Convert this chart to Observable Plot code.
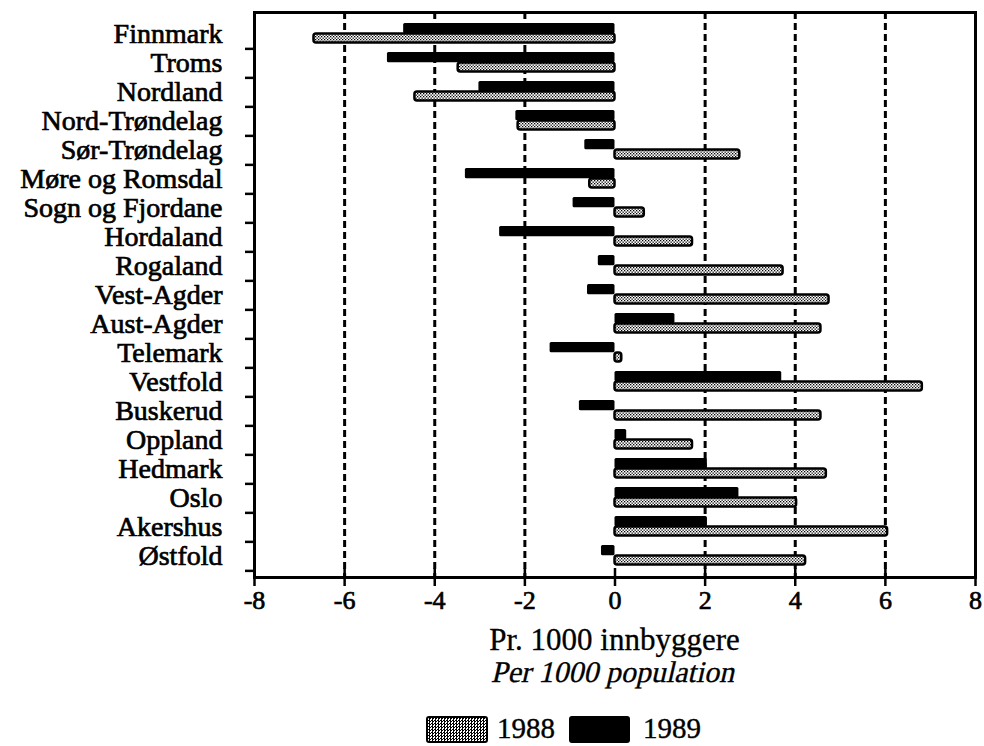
<!DOCTYPE html>
<html>
<head>
<meta charset="utf-8">
<script src="https://cdn.jsdelivr.net/npm/d3@7"></script>
<script src="https://cdn.jsdelivr.net/npm/@observablehq/plot@0.6"></script>
<style>
  html, body { margin: 0; padding: 0; background: #fff; }
  #wrap { position: relative; width: 984px; height: 746px; overflow: hidden; font-family: "Liberation Serif", "Times New Roman", serif; color: #000; }
  .t { position: absolute; left: 254px; width: 721px; text-align: center; white-space: nowrap; -webkit-text-stroke: 0.3px #000; }
  .t span { display: inline-block; }
  .leg { position: absolute; top: 716px; font-size: 29px; line-height: 24px; -webkit-text-stroke: 0.4px #000; }
  .sw { position: absolute; top: 716px; height: 27px; box-sizing: border-box; border: 2px solid #000; border-radius: 3px; }
  #chart svg text { paint-order: stroke; stroke: #000; stroke-width: 0.7px; }
</style>
</head>
<body>
<div id="wrap">
  <div id="chart"></div>
  <div class="t" style="top:624px;font-size:31px;line-height:31px;">Pr. 1000 innbyggere</div>
  <div class="t" style="top:657px;font-size:30px;line-height:30px;"><span style="transform:skewX(-13deg);">Per 1000 population</span></div>
  <div class="sw" style="left:426px;width:62px;background:repeating-conic-gradient(#000 0 25%, #fff 0 50%) 0 0/3px 3px;"></div>
  <div class="leg" style="left:497px;">1988</div>
  <div class="sw" style="left:569px;width:61px;background:#000;"></div>
  <div class="leg" style="left:643px;">1989</div>
</div>
<script>
const counties = ["Finnmark","Troms","Nordland","Nord-Trøndelag","Sør-Trøndelag","Møre og Romsdal","Sogn og Fjordane","Hordaland","Rogaland","Vest-Agder","Aust-Agder","Telemark","Vestfold","Buskerud","Oppland","Hedmark","Oslo","Akershus","Østfold"];
const values1988 = [-6.68,-3.48,-4.44,-2.15,2.77,-0.56,0.65,1.72,3.73,4.75,4.57,0.15,6.82,4.57,1.72,4.69,4.03,6.05,4.23];
const values1989 = [-4.69,-5.05,-3.02,-2.2,-0.67,-3.32,-0.93,-2.56,-0.37,-0.61,1.33,-1.44,3.7,-0.79,0.26,2.05,2.75,2.05,-0.3];
const xTicks = [-8,-6,-4,-2,0,2,4,6,8];
const gridLines = [-6,-4,-2,2,4,6];

const rows = counties.map((c, i) => ({county: c, v1988: values1988[i], v1989: values1989[i]}));

const H = 612, mT = 12, mB = 35;
const bw = (H - mT - mB) / counties.length;

const svg = Plot.plot({
  width: 984,
  height: H,
  marginLeft: 254,
  marginRight: 9,
  marginTop: mT,
  marginBottom: mB,
  style: {fontFamily: "'Liberation Serif', 'Times New Roman', serif", fontSize: "26px", color: "#000", background: "#fff", overflow: "visible"},
  x: {domain: [-8, 8]},
  y: {domain: counties, padding: 0},
  marks: [
    Plot.ruleX(gridLines, {x: d => d, stroke: "#000", strokeWidth: 3, strokeDasharray: "7,4"}),
    Plot.barX(rows, {y: "county", x1: 0, x2: "v1989", fill: "#000", insetTop: 4, insetBottom: bw - 15, rx: 1.5}),
    Plot.barX(rows, {y: "county", x1: 0, x2: "v1988", fill: "url(#dots)", stroke: "#000", strokeWidth: 2.5, insetTop: 14.5, insetBottom: 5.5, rx: 2.5}),
    Plot.frame({stroke: "#000", strokeWidth: 3}),
    Plot.ruleY(counties, {y: d => d, x1: -8, x2: -8, insetLeft: -9, dy: bw / 2, stroke: "#000", strokeWidth: 2.5}),
    Plot.axisY({tickSize: 0, tickPadding: 32, label: null, fontSize: 28}),
    Plot.axisX({ticks: xTicks, tickSize: 9, tickPadding: 4, label: null, tickFormat: d => `${d}`, fontSize: 26, strokeWidth: 2.5}),
    Plot.axisX({ticks: xTicks, tickSize: 9, dy: -9, label: null, tickFormat: () => "", strokeWidth: 2.5})
  ]
});

const defs = d3.select(svg).insert("defs", ":first-child");
const pat = defs.append("pattern").attr("id", "dots").attr("patternUnits", "userSpaceOnUse").attr("width", 3).attr("height", 3);
pat.append("rect").attr("width", 3).attr("height", 3).attr("fill", "#fff");
pat.append("rect").attr("x", 0).attr("y", 0).attr("width", 1.3).attr("height", 1.3).attr("fill", "#000");
pat.append("rect").attr("x", 1.5).attr("y", 1.5).attr("width", 1.3).attr("height", 1.3).attr("fill", "#000");

document.getElementById("chart").appendChild(svg);
</script>
</body>
</html>
